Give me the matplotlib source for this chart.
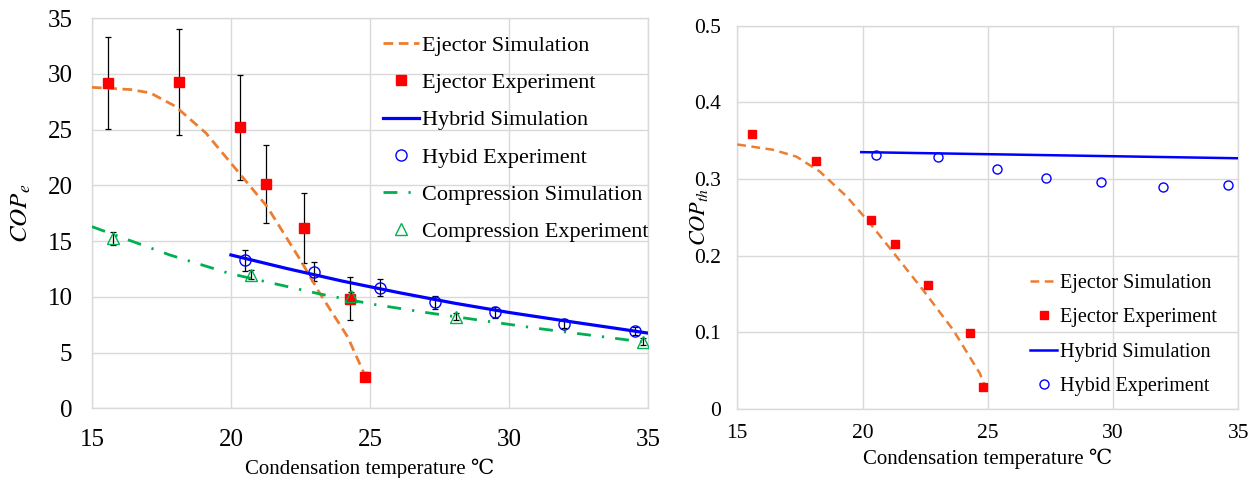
import numpy as np
import matplotlib
matplotlib.use("Agg")
import matplotlib.pyplot as plt

plt.rcParams['font.family'] = ['Liberation Serif', 'DejaVu Serif']
plt.rcParams['mathtext.fontset'] = 'stix'

## colours
orange = '#ED7D31'
red = '#FF0000'
blue = '#0000FF'
green = '#00B050'
grid_c = '#D9D9D9'

## left panel data (COP_e)
ej_sim_T = [15.0, 16.4, 17.1, 18.0, 19.1, 20.1, 21.3, 22.5, 23.2, 24.2, 24.9]
ej_sim_cop = [28.8, 28.6, 28.3, 27.1, 24.7, 21.7, 18.1, 13.3, 10.3, 6.4, 2.5]

ej_exp_T = [15.58, 18.12, 20.31, 21.27, 22.63, 24.27, 24.81]
ej_exp_cop = [29.2, 29.3, 25.2, 20.1, 16.2, 9.84, 2.84]
ej_exp_err = [4.1, 4.75, 4.75, 3.5, 3.15, 1.9, 0.4]

hy_sim_T = [20.0, 22.0, 24.0, 26.0, 28.0, 30.0, 32.0, 34.0, 35.0]
hy_sim_cop = [13.76, 12.55, 11.42, 10.4, 9.45, 8.6, 7.85, 7.12, 6.75]

hy_exp_T = [20.52, 22.97, 25.35, 27.33, 29.51, 31.98, 34.55]
hy_exp_cop = [13.3, 12.26, 10.83, 9.51, 8.62, 7.57, 6.94]
hy_exp_err = [0.95, 0.85, 0.75, 0.6, 0.5, 0.4, 0.35]

co_sim_T = [15.0, 17.8, 19.95, 23.2, 25.05, 27.0, 31.0, 35.0]
co_sim_cop = [16.3, 13.76, 12.1, 10.26, 9.36, 8.6, 7.18, 5.9]

co_exp_T = [15.76, 20.73, 24.33, 28.11, 34.82]
co_exp_cop = [15.26, 11.97, 10.08, 8.22, 5.98]
co_exp_err = [0.6, 0.4, 0.4, 0.3, 0.3]

## right panel data (COP_th)
ej_sim_T2 = [15.0, 16.44, 17.37, 18.3, 19.37, 20.3, 21.36, 22.42, 23.62, 24.68, 24.87]
ej_sim_cop2 = [0.345, 0.338, 0.329, 0.3095, 0.277, 0.242, 0.1987, 0.155, 0.103, 0.0466, 0.031]

ej_exp_T2 = [15.57, 18.13, 20.32, 21.29, 22.62, 24.28, 24.79]
ej_exp_cop2 = [0.358, 0.3235, 0.2465, 0.215, 0.1617, 0.0987, 0.029]

hy_sim_T2 = [19.95, 35.0]
hy_sim_cop2 = [0.335, 0.327]

hy_exp_T2 = [20.55, 23.0, 25.37, 27.34, 29.53, 32.0, 34.57]
hy_exp_cop2 = [0.331, 0.328, 0.313, 0.301, 0.296, 0.289, 0.292]

xticks = [15, 20, 25, 30, 35]
yticks_left = [0, 5, 10, 15, 20, 25, 30, 35]
yticks_right = [0, 0.1, 0.2, 0.3, 0.4, 0.5]
yticklabels_right = ['0', '0.1', '0.2', '0.3', '0.4', '0.5']

fig = plt.figure(figsize=(12.56, 4.78), dpi=100)
ax1 = fig.add_axes([0.0732, 0.1458, 0.4427, 0.816])
ax2 = fig.add_axes([0.587, 0.1444, 0.3989, 0.802])


def style(ax, fs, xpad, ypad):
    ax.grid(True, color=grid_c, lw=1.0)
    ax.set_axisbelow(True)
    for s in ax.spines.values():
        s.set_color(grid_c)
        s.set_linewidth(1.0)
    ax.tick_params(length=0, labelsize=fs)
    ax.tick_params(axis='x', pad=xpad)
    ax.tick_params(axis='y', pad=ypad)


## left
for T, c, e in [(ej_exp_T, ej_exp_cop, ej_exp_err), (hy_exp_T, hy_exp_cop, hy_exp_err), (co_exp_T, co_exp_cop, co_exp_err)]:
    ax1.errorbar(T, c, yerr=e, fmt='none', ecolor='black', elinewidth=0.9, capsize=2.5, capthick=0.9, zorder=2)

ax1.plot(ej_sim_T, ej_sim_cop, color=orange, lw=2.0, dashes=(3.5, 2), label='Ejector Simulation', zorder=3)
ax1.plot(ej_exp_T, ej_exp_cop, 's', color=red, ms=7, label='Ejector Experiment', zorder=4)
ax1.plot(hy_sim_T, hy_sim_cop, color=blue, lw=2.3, label='Hybrid Simulation', zorder=3)
ax1.plot(hy_exp_T, hy_exp_cop, 'o', mfc='none', mec=blue, mew=1.0, ms=8, label='Hybid Experiment', zorder=4)
ax1.plot(co_sim_T, co_sim_cop, color=green, lw=2.0, dashes=(5, 4, 0.8, 4), label='Compression Simulation', zorder=3)
ax1.plot(co_exp_T, co_exp_cop, '^', mfc='none', mec=green, mew=1.0, ms=8, label='Compression Experiment', zorder=4)

ax1.set_xlim(15, 35)
ax1.set_ylim(0, 35)
ax1.set_xticks(xticks)
ax1.set_yticks(yticks_left)
style(ax1, 18, 15, 14)
ax1.set_xlabel('Condensation temperature ℃', fontsize=15, labelpad=5)
ax1.set_ylabel('$COP_e$', fontsize=18)
ax1.yaxis.set_label_coords(-0.106, 0.5)
ax1.legend(loc='upper left', bbox_to_anchor=(0.5, 0.99), frameon=False, fontsize=16,
           handlelength=1.6, handletextpad=0.15, labelspacing=0.75, borderaxespad=0.2)

## right
ax2.plot(ej_sim_T2, ej_sim_cop2, color=orange, lw=1.8, dashes=(3.5, 2.2), label='Ejector Simulation', zorder=3)
ax2.plot(ej_exp_T2, ej_exp_cop2, 's', color=red, ms=6, label='Ejector Experiment', zorder=4)
ax2.plot(hy_sim_T2, hy_sim_cop2, color=blue, lw=1.8, label='Hybrid Simulation', zorder=3)
ax2.plot(hy_exp_T2, hy_exp_cop2, 'o', mfc='none', mec=blue, mew=1.0, ms=6.5, label='Hybid Experiment', zorder=4)

ax2.set_xlim(15, 35)
ax2.set_ylim(0, 0.5)
ax2.set_xticks(xticks)
ax2.set_yticks(yticks_right)
ax2.set_yticklabels(yticklabels_right)
style(ax2, 15.5, 11, 12)
ax2.set_xlabel('Condensation temperature ℃', fontsize=15, labelpad=4)
ax2.set_ylabel('$COP_{th}$', fontsize=16)
ax2.yaxis.set_label_coords(-0.055, 0.5)
ax2.legend(loc='upper left', bbox_to_anchor=(0.56, 0.385), frameon=False, fontsize=14.5,
           handlelength=1.35, handletextpad=0.15, labelspacing=0.77, borderaxespad=0.2)

fig.savefig('out.png', dpi=100)
